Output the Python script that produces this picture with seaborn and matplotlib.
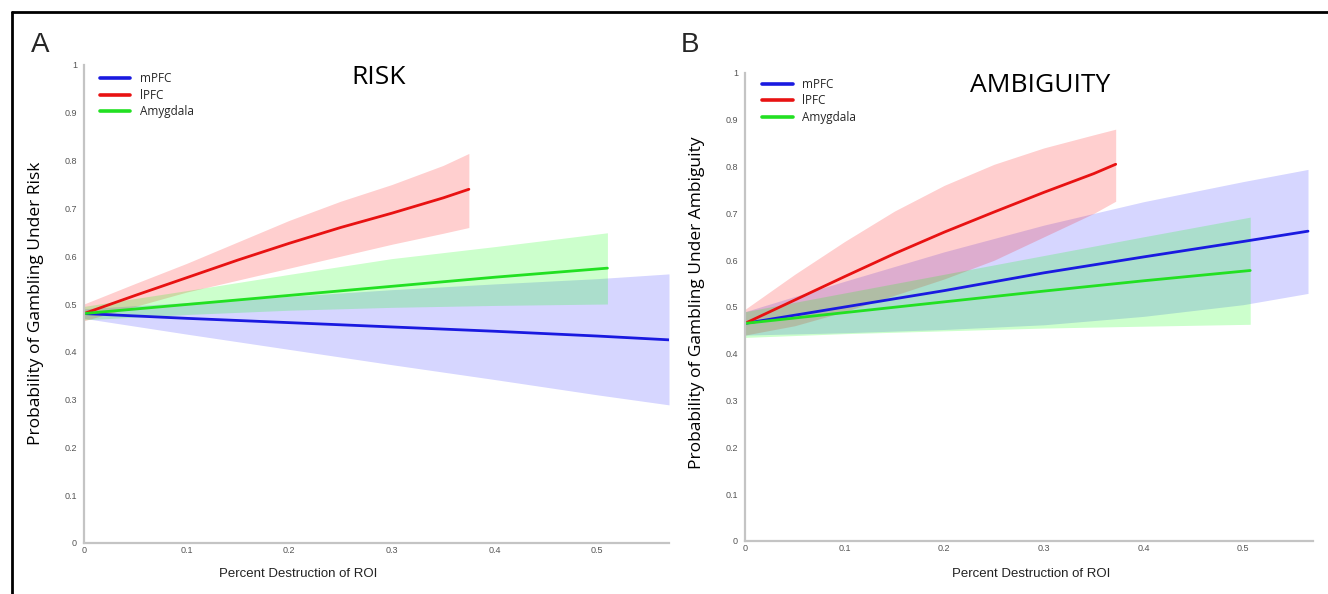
import numpy as np
import pandas as pd
import matplotlib.pyplot as plt
import seaborn as sns
from matplotlib.lines import Line2D

# ---- Panel A: risk ----
risk_mpfc_x = [0, 0.1, 0.2, 0.3, 0.4, 0.5, 0.57]
risk_mpfc_mean = [0.48, 0.470, 0.461, 0.452, 0.443, 0.433, 0.425]
risk_mpfc_low = [0.47, 0.437, 0.405, 0.373, 0.342, 0.310, 0.289]
risk_mpfc_high = [0.49, 0.503, 0.516, 0.530, 0.542, 0.553, 0.563]

risk_lpfc_x = [0, 0.05, 0.1, 0.15, 0.2, 0.25, 0.3, 0.35, 0.375]
risk_lpfc_mean = [0.48, 0.518, 0.555, 0.592, 0.627, 0.660, 0.690, 0.722, 0.740]
risk_lpfc_low = [0.465, 0.495, 0.525, 0.550, 0.575, 0.600, 0.625, 0.648, 0.660]
risk_lpfc_high = [0.50, 0.543, 0.585, 0.630, 0.675, 0.715, 0.750, 0.790, 0.815]

risk_amyg_x = [0, 0.1, 0.2, 0.3, 0.4, 0.51]
risk_amyg_mean = [0.48, 0.499, 0.518, 0.537, 0.556, 0.575]
risk_amyg_low = [0.467, 0.478, 0.487, 0.493, 0.497, 0.500]
risk_amyg_high = [0.495, 0.528, 0.562, 0.595, 0.620, 0.649]

# ---- Panel B: ambiguity ----
amb_mpfc_x = [0, 0.1, 0.2, 0.3, 0.4, 0.5, 0.565]
amb_mpfc_mean = [0.465, 0.500, 0.535, 0.573, 0.607, 0.640, 0.662]
amb_mpfc_low = [0.44, 0.445, 0.452, 0.462, 0.480, 0.505, 0.529]
amb_mpfc_high = [0.49, 0.555, 0.618, 0.675, 0.725, 0.768, 0.794]

amb_lpfc_x = [0, 0.05, 0.1, 0.15, 0.2, 0.25, 0.3, 0.35, 0.372]
amb_lpfc_mean = [0.465, 0.515, 0.565, 0.614, 0.660, 0.703, 0.745, 0.785, 0.805]
amb_lpfc_low = [0.44, 0.460, 0.490, 0.525, 0.560, 0.600, 0.650, 0.700, 0.726]
amb_lpfc_high = [0.495, 0.570, 0.640, 0.705, 0.760, 0.805, 0.840, 0.868, 0.880]

amb_amyg_x = [0, 0.1, 0.2, 0.3, 0.4, 0.507]
amb_amyg_mean = [0.465, 0.488, 0.511, 0.534, 0.556, 0.578]
amb_amyg_low = [0.435, 0.443, 0.449, 0.455, 0.459, 0.463]
amb_amyg_high = [0.49, 0.530, 0.570, 0.610, 0.650, 0.692]

regions = ["mPFC", "lPFC", "Amygdala"]
line_colors = {"mPFC": "#1a1ae0", "lPFC": "#e81212", "Amygdala": "#22e022"}
band_colors = {"mPFC": ((0, 0, 1), 0.16), "lPFC": ((1, 0, 0), 0.19), "Amygdala": ((0, 1, 0), 0.2)}

x_ticks = [0, 0.1, 0.2, 0.3, 0.4, 0.5]
y_ticks = [0, 0.1, 0.2, 0.3, 0.4, 0.5, 0.6, 0.7, 0.8, 0.9, 1]
tick_labels_y = ["0", "0.1", "0.2", "0.3", "0.4", "0.5", "0.6", "0.7", "0.8", "0.9", "1"]
tick_labels_x = ["0", "0.1", "0.2", "0.3", "0.4", "0.5"]


def build_frame(xs, means, lows, highs):
    rows = []
    for name, x, m, lo, hi in zip(regions, xs, means, lows, highs):
        rows.append(pd.DataFrame({"x": x, "p": m, "lo": lo, "hi": hi, "region": name}))
    return pd.concat(rows, ignore_index=True)


risk_df = build_frame([risk_mpfc_x, risk_lpfc_x, risk_amyg_x],
                      [risk_mpfc_mean, risk_lpfc_mean, risk_amyg_mean],
                      [risk_mpfc_low, risk_lpfc_low, risk_amyg_low],
                      [risk_mpfc_high, risk_lpfc_high, risk_amyg_high])
amb_df = build_frame([amb_mpfc_x, amb_lpfc_x, amb_amyg_x],
                     [amb_mpfc_mean, amb_lpfc_mean, amb_amyg_mean],
                     [amb_mpfc_low, amb_lpfc_low, amb_amyg_low],
                     [amb_mpfc_high, amb_lpfc_high, amb_amyg_high])

sns.set_style("white")
plt.rcParams['font.family'] = ['Liberation Sans', 'DejaVu Sans']

W, H = 1328, 594
fig = plt.figure(figsize=(W / 100, H / 100), dpi=100)


def px_axes(left, right, top, bottom):
    return fig.add_axes([left / W, 1 - bottom / H, (right - left) / W, (bottom - top) / H])


def draw_panel(ax, df, title, title_xy, ylabel, ylabel_xy, xlabel_xy, legend_xy):
    for name in regions:
        sub = df[df.region == name]
        col, a = band_colors[name]
        ax.fill_between(sub.x, sub.lo, sub.hi, color=col, alpha=a, lw=0)
    sns.lineplot(data=df, x="x", y="p", hue="region", hue_order=regions,
                 palette=line_colors, lw=2.0, ax=ax, sort=False, estimator=None)
    ax.set_xlim(0, 0.57)
    ax.set_ylim(0, 1)
    ax.set_xticks(x_ticks)
    ax.set_xticklabels(tick_labels_x)
    ax.set_yticks(y_ticks)
    ax.set_yticklabels(tick_labels_y)
    ax.tick_params(axis="both", labelsize=6.5, colors="#b0b0b0", labelcolor="#555555",
                   length=3, width=0.8, pad=2)
    ax.tick_params(axis="x", direction="in")
    for s in ["top", "right"]:
        ax.spines[s].set_visible(False)
    for s in ["left", "bottom"]:
        ax.spines[s].set_color("#c4c4c4")
        ax.spines[s].set_linewidth(1.6)
    ax.set_xlabel("Percent Destruction of ROI", fontsize=9.5, color="#222222")
    ax.xaxis.set_label_coords(*xlabel_xy)
    ax.set_ylabel(ylabel, fontsize=12.5, family=["Open Sans", "DejaVu Sans"], color="black")
    ax.yaxis.set_label_coords(*ylabel_xy)
    ax.text(title_xy[0], title_xy[1], title, transform=ax.transAxes, ha="center", va="center",
            fontsize=19, family=["Open Sans", "DejaVu Sans"], color="black")
    handles = [Line2D([], [], color=line_colors[n], lw=2.6) for n in regions]
    ax.legend(handles, regions, loc="upper left", bbox_to_anchor=legend_xy, frameon=False,
              prop={"family": ["Open Sans", "DejaVu Sans"], "size": 8.5}, handlelength=2.6,
              handletextpad=0.8, labelspacing=0.3, borderpad=0, borderaxespad=0)


ax_a = px_axes(84, 669, 65, 543)
draw_panel(ax_a, risk_df, "RISK", (0.503, 0.973), "Probability of Gambling Under Risk",
           (-0.068, 0.502), (0.366, -0.052), (0.027, 0.985))

ax_b = px_axes(745, 1313, 73, 541)
draw_panel(ax_b, amb_df, "AMBIGUITY", (0.52, 0.974), "Probability of Gambling Under Ambiguity",
           (-0.070, 0.51), (0.504, -0.058), (0.03, 0.99))

fig.text(40 / W, 1 - 45 / H, "A", fontsize=20, ha="center", va="center")
fig.text(690 / W, 1 - 45 / H, "B", fontsize=20, ha="center", va="center")

# black frame round the figure (left and top edges)
fig.add_artist(Line2D([12 / W, 12 / W], [0, 1 - 12 / H], transform=fig.transFigure, color="black", lw=2))
fig.add_artist(Line2D([12 / W, 1], [1 - 12 / H, 1 - 12 / H], transform=fig.transFigure, color="black", lw=2))

fig.savefig("out.png", dpi=100)
